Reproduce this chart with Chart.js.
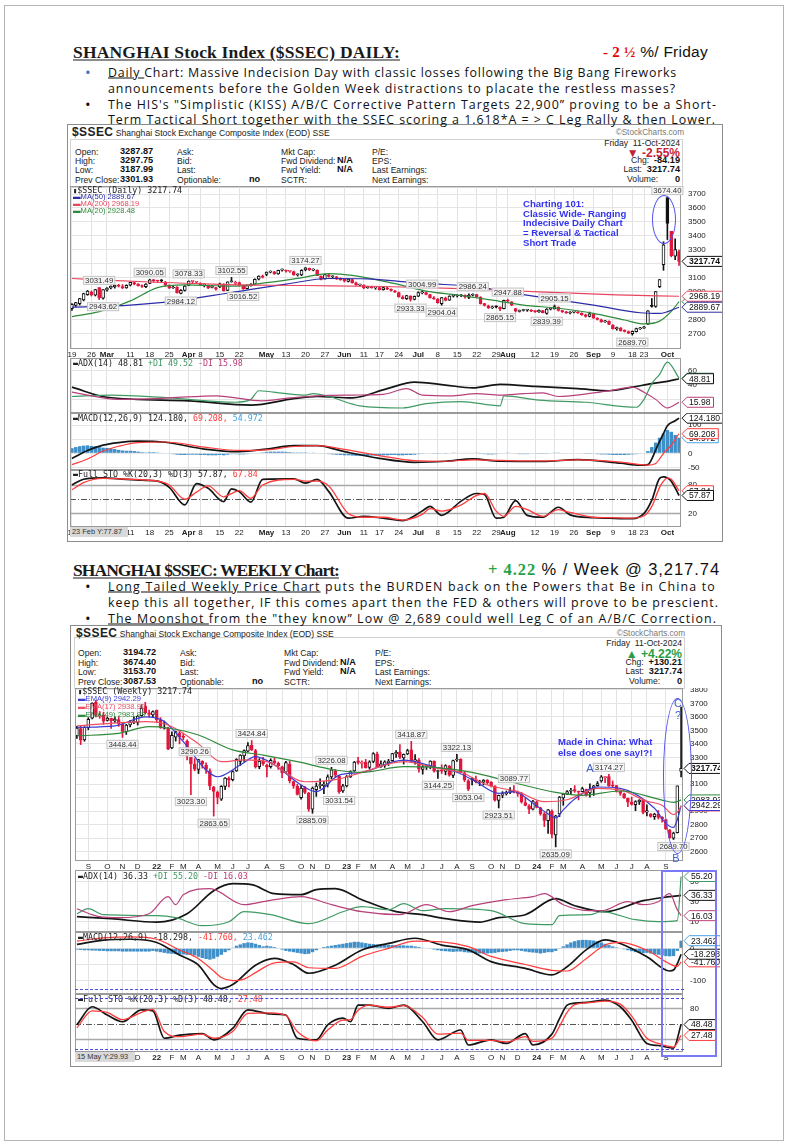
<!DOCTYPE html>
<html>
<head>
<meta charset="utf-8">
<title>SHANGHAI $SSEC Daily / Weekly</title>
<script src="https://cdn.jsdelivr.net/npm/chart.js"></script>
<style>
body { margin:0; width:790px; height:1144px; position:relative; overflow:hidden; background:#fff; font-family:"Liberation Sans", Arial, sans-serif; color:#111; }
.abs { position:absolute; white-space:nowrap; line-height:1; }
#frame { position:absolute; left:4px; top:5px; width:778px; height:1134px; border:1px solid #b4b4b4; }
.box { position:absolute; border:1px solid #8c8c8c; }
.info { position:absolute; border:1px solid #d2d2d2; }
canvas { position:absolute; }
.ttl { font: bold 17.5px "Liberation Serif", serif; color:#1a1a1a; text-decoration: underline; text-underline-offset: 2px; }
.bul { font: 12.4px "Open Sans", sans-serif; color:#111; }
.s { font-size: 8.6px; color:#222; }
.b9 { font-weight:bold; font-size:9.2px; color:#111; }
.mono { font-family: "DejaVu Sans Mono", monospace; font-size: 8.3px; color:#222; }
.ma { font-size: 7.6px; }
.note { font: bold 9.6px "Liberation Sans", sans-serif; color:#3434ee; }
.ring { position:absolute; border:1.3px solid #5555ee; border-radius:50%; }
.dash { position:absolute; height:0; border-top:1.5px dashed #4a4ae8; }
.readout { position:absolute; background:#d9d9d9; font-size:7.4px; color:#333; line-height:10px; padding-left:2px; }
</style>
</head>
<body>
<div id="frame"></div>
<div class="box" style="left:67px;top:124px;width:654px;height:416px"></div>
<div class="info" style="left:70px;top:139px;width:611px;height:47px"></div>
<div class="box" style="left:70px;top:625px;width:650px;height:440px"></div>
<div class="info" style="left:74px;top:637px;width:609px;height:50px"></div>

<canvas id="dPrice" width="656" height="172" style="left:66px;top:186px"></canvas>
<canvas id="dAdx" width="656" height="55" style="left:66px;top:358px"></canvas>
<canvas id="dMacd" width="656" height="57" style="left:66px;top:413px"></canvas>
<canvas id="dSto" width="656" height="67" style="left:66px;top:470px"></canvas>

<canvas id="wPrice" width="645" height="182" style="left:75px;top:688px"></canvas>
<canvas id="wAdx" width="645" height="62" style="left:75px;top:870px"></canvas>
<canvas id="wMacd" width="645" height="62" style="left:75px;top:932px"></canvas>
<canvas id="wSto" width="645" height="68" style="left:75px;top:994px"></canvas>

<script>
// ---------- daily data (Feb 19 - Oct 11 2024) ----------
const dailyDates = ["02-19","02-20","02-21","02-22","02-23","02-26","02-27","02-28","02-29",
"03-01","03-04","03-05","03-06","03-07","03-08","03-11","03-12","03-13","03-14","03-15","03-18","03-19","03-20","03-21","03-22","03-25","03-26","03-27","03-28","03-29",
"04-01","04-02","04-03","04-08","04-09","04-10","04-11","04-12","04-15","04-16","04-17","04-18","04-19","04-22","04-23","04-24","04-25","04-26","04-29","04-30",
"05-06","05-07","05-08","05-09","05-10","05-13","05-14","05-15","05-16","05-17","05-20","05-21","05-22","05-23","05-24","05-27","05-28","05-29","05-30","05-31",
"06-03","06-04","06-05","06-06","06-07","06-11","06-12","06-13","06-14","06-17","06-18","06-19","06-20","06-21","06-24","06-25","06-26","06-27","06-28",
"07-01","07-02","07-03","07-04","07-05","07-08","07-09","07-10","07-11","07-12","07-15","07-16","07-17","07-18","07-19","07-22","07-23","07-24","07-25","07-26","07-29","07-30","07-31",
"08-01","08-02","08-05","08-06","08-07","08-08","08-09","08-12","08-13","08-14","08-15","08-16","08-19","08-20","08-21","08-22","08-23","08-26","08-27","08-28","08-29","08-30",
"09-02","09-03","09-04","09-05","09-06","09-09","09-10","09-11","09-12","09-13","09-18","09-19","09-20","09-23","09-24","09-25","09-26","09-27","09-30",
"10-08","10-09","10-10","10-11"];

const dOpen = [2880,2903,2915,2942,2980,2998,2975,3031,2955,
3012,3027,3035,3045,3038,3028,3048,3066,3055,3043,3036,3060,3083,3078,3080,3070,3048,3027,3033,2988,3010,
3045,3075,3068,3060,3048,3045,3032,3030,3035,3055,3010,3072,3060,3066,3045,3022,3043,3055,3090,3112,
3125,3140,3143,3128,3155,3150,3146,3145,3120,3120,3158,3168,3155,3155,3110,3092,3122,3108,3108,3092,
3090,3075,3088,3065,3048,3048,3028,3036,3028,3030,3015,3028,3018,3005,2995,2962,2950,2970,2945,
2968,2992,2995,2980,2955,2948,2915,2955,2940,2968,2970,2972,2975,2960,2975,2980,2962,2915,2900,2885,2893,2890,2880,
2935,2928,2880,2860,2866,2868,2868,2860,2856,2866,2845,2875,2878,2890,2865,2855,2848,2855,2854,2847,2835,2823,
2838,2810,2800,2785,2788,2760,2735,2740,2722,2715,2700,2715,2735,2740,2770,2900,2895,3036,3195,
3674,3433,3255,3288];
const dHigh = [2915,2925,2953,2990,3010,3006,3018,3031,3016,
3030,3042,3050,3054,3052,3050,3070,3070,3058,3050,3058,3090,3086,3083,3088,3075,3050,3040,3038,3015,3045,
3078,3078,3075,3065,3058,3050,3045,3032,3062,3058,3072,3103,3076,3070,3048,3048,3058,3092,3115,3120,
3142,3150,3146,3155,3165,3155,3150,3148,3130,3158,3174,3170,3165,3158,3115,3125,3125,3115,3110,3100,
3092,3092,3090,3070,3055,3050,3040,3040,3035,3035,3032,3032,3022,3010,2998,2972,2975,2972,2970,
3000,3005,2998,2982,2965,2952,2960,2962,2972,2978,2980,2980,2978,2985,2986,2982,2965,2918,2905,2898,2900,2892,2940,
2948,2930,2882,2870,2875,2875,2872,2864,2870,2868,2880,2885,2905,2892,2868,2860,2858,2860,2858,2850,2840,2855,
2840,2815,2805,2795,2792,2765,2748,2745,2728,2720,2720,2740,2745,2752,2865,2952,3001,3088,3358,
3674,3433,3380,3298];
const dLow = [2866,2895,2905,2935,2975,2970,2970,2944,2948,
3005,3020,3026,3034,3022,3025,3042,3050,3040,3032,3030,3058,3070,3068,3070,3040,3024,3025,2990,2984,3005,
3043,3062,3060,3045,3035,3022,3028,3012,3030,3005,3008,3068,3050,3040,3017,3020,3040,3050,3085,3098,
3115,3135,3125,3125,3148,3140,3138,3118,3112,3115,3150,3152,3150,3115,3085,3090,3105,3100,3088,3082,
3070,3070,3062,3045,3042,3022,3025,3025,3018,3012,3012,3015,3005,2995,2962,2948,2945,2933,2942,
2965,2985,2978,2955,2945,2918,2904,2935,2938,2962,2962,2965,2955,2950,2970,2960,2912,2898,2880,2880,2885,2865,2878,
2928,2900,2855,2855,2862,2860,2858,2852,2852,2848,2839,2870,2876,2862,2852,2845,2842,2848,2845,2832,2818,2820,
2810,2798,2782,2780,2765,2732,2725,2718,2712,2700,2690,2712,2730,2738,2765,2890,2889,3030,3154,
3374,3250,3230,3188];
const dClose = [2910,2923,2951,2988,3005,2977,3015,2958,3015,
3027,3039,3048,3040,3027,3046,3068,3056,3044,3038,3055,3085,3080,3077,3078,3048,3026,3031,2993,3011,3041,
3077,3075,3069,3047,3049,3027,3034,3019,3057,3007,3071,3074,3065,3045,3022,3045,3053,3089,3113,3105,
3141,3148,3128,3154,3155,3148,3146,3120,3122,3154,3171,3158,3159,3116,3089,3124,3110,3111,3092,3087,
3078,3091,3065,3049,3051,3028,3037,3029,3033,3016,3030,3018,3009,2998,2963,2950,2973,2946,2967,
2995,2997,2982,2958,2950,2922,2959,2939,2970,2971,2974,2976,2963,2977,2982,2964,2915,2902,2886,2891,2892,2879,2939,
2932,2905,2861,2867,2870,2870,2862,2858,2868,2851,2877,2879,2894,2867,2857,2849,2854,2856,2849,2837,2823,2842,
2811,2803,2784,2788,2766,2736,2744,2722,2717,2704,2717,2736,2737,2749,2863,2896,3001,3088,3337,
3490,3259,3302,3218];

// overlays and indicators: [bar index, value]
const dMA200 = [[0,3095],[10,3082],[20,3070],[40,3052],[60,3045],[80,3038],[100,3022],[120,3000],[140,2978],[156,2968.19]];
const dMA50 = [[0,2890],[15,2905],[27,2935],[41,2995],[55,3055],[66,3095],[76,3092],[84,3075],[91,3060],[104,3035],[116,2980],[134,2905],[146,2850],[151,2845],[156,2889.67]];
const dMA20 = [[0,2822],[7,2858],[15,2935],[22,3030],[29,3050],[41,3040],[50,3065],[58,3096],[66,3130],[72,3118],[83,3058],[91,3005],[99,2977],[108,2941],[116,2905],[125,2882],[134,2846],[142,2798],[147,2770],[151,2790],[154,2860],[156,2929.48]];
const dAdx = [[0,37],[9,23],[30,18],[46,12],[57,21],[63,24],[72,22],[81,35],[88,44],[96,40],[103,36],[110,41],[119,38],[130,35],[138,32],[144,37],[149,42],[153,45],[156,48.81]];
const dPdi = [[0,24],[10,26],[25,22],[42,16],[46,20],[48,32],[55,28],[60,26],[62,28],[66,24],[74,11],[85,8],[91,14],[100,17],[110,11],[111,25],[120,19],[132,16],[145,9],[147,20],[149,42],[151,55],[153,72],[156,49.52]];
const dMdi = [[0,30],[12,20],[25,22],[37,25],[49,18],[56,22],[63,25],[72,26],[80,27],[86,35],[90,26],[98,25],[104,28],[110,26],[116,28],[121,29],[125,24],[134,29],[139,33],[144,37],[147,30],[150,20],[153,8],[156,15.98]];
const dMacd = [[0,-18],[4,10],[8,29],[12,38],[17,43],[24,39],[34,15],[43,6],[50,15],[57,27],[63,27],[70,6],[79,-18],[88,-32],[96,-28],[103,-20],[110,-28],[121,-29],[130,-22],[141,-35],[146,-42],[148,-40],[149,-20],[150,12],[152,70],[153,97],[155,115],[156,124.18]];
const dSignal = [[0,-40],[4,-20],[8,8],[12,25],[17,38],[24,40],[34,22],[43,10],[50,12],[57,24],[63,27],[70,14],[79,-8],[88,-26],[96,-28],[103,-23],[110,-25],[121,-27],[130,-23],[141,-31],[146,-40],[148,-42],[150,-36],[151,-20],[152,0],[154,29],[156,69.21]];
const dHist = [18,22,25,27,28,26,25,22,20,19,
17,15,12,10,9,9,8,6,4,3,
4,4,3,2,0,-2,-3,-5,-6,-6,
-5,-5,-5,-6,-6,-7,-7,-7,-6,-7,
-5,-3,-3,-4,-4,-3,-2,0,2,3,
5,6,6,6,6,5,4,3,3,3,
3,2,1,0,-2,-2,-3,-4,-5,-6,
-7,-7,-8,-9,-9,-9,-9,-8,-8,-8,
-7,-7,-6,-6,-7,-7,-6,-6,-5,-3,
-1,0,0,-1,-1,-2,-1,0,1,2,
2,2,2,2,1,-1,-3,-4,-4,-3,
-2,0,1,0,-2,-3,-3,-3,-2,-2,
-1,-1,-1,0,1,1,0,0,0,0,
0,0,-1,-1,-2,-3,-4,-4,-5,-6,
-6,-6,-6,-5,-4,-3,-2,0,8,22,
38,55,70,82,76,65,55];
const dK = [[0,80],[3,92],[8,95],[12,93],[18,90],[22,88],[25,75],[29,38],[32,83],[35,73],[39,45],[41,72],[43,66],[46,44],[49,92],[57,93],[60,84],[63,92],[66,66],[71,10],[75,14],[80,10],[85,5],[90,25],[92,35],[95,16],[100,46],[104,62],[106,60],[109,10],[111,12],[114,47],[117,16],[121,12],[125,33],[128,17],[134,11],[138,10],[144,9],[147,20],[149,48],[151,94],[152,97],[153,95],[154,88],[156,57.87]];
const dD = [[0,70],[3,85],[8,94],[12,93],[18,91],[22,88],[25,80],[29,50],[32,65],[35,78],[39,55],[41,62],[43,68],[46,52],[49,80],[57,92],[60,88],[63,88],[66,78],[71,20],[75,12],[80,12],[85,6],[90,18],[92,30],[95,25],[100,38],[104,58],[106,62],[109,25],[111,14],[114,35],[117,28],[121,14],[125,28],[128,22],[134,12],[138,11],[144,10],[147,15],[149,35],[151,75],[152,88],[153,95],[154,92],[156,67.84]];
// swing labels: [bar index, price, 1 = above / -1 = below]
const dSwings = [[7,3031.49,1],[8,2943.62,-1],[20,3090.05,1],[30,3078.33,1],[28,2984.12,-1],[41,3102.55,1],[44,3016.52,-1],[60,3174.27,1],[87,2933.33,-1],[90,3004.99,1],[95,2904.04,-1],[103,2986.24,1],[112,2947.88,1],[110,2865.15,-1],[124,2905.15,1],[122,2839.39,-1],[144,2689.70,-1],[153,3674.40,1]];
const dailyTickDates = ["02-19","02-26","03-01","03-11","03-18","03-25","04-01","04-08","04-15","04-22","05-06","05-13","05-20","05-27","06-03","06-11","06-17","06-24","07-01","07-08","07-15","07-22","07-29","08-01","08-12","08-19","08-26","09-02","09-09","09-18","09-23","10-08"];
const dailyTickText = ["19","26","Mar","11","18","25","Apr","8","15","22","May","13","20","27","Jun","11","17","24","Jul","8","15","22","29","Aug","12","19","26","Sep","9","18","23","Oct"];
const dailyQuote = ["3287.87","3297.75","3187.99","3301.93"];

// ---------- weekly data (Aug 2021 - Oct 11 2024) ----------
const weeklyDates = ["21-08-13","21-08-20","21-08-27","21-09-03","21-09-10","21-09-17","21-09-24","21-09-30","21-10-08","21-10-15","21-10-22","21-10-29","21-11-05","21-11-12","21-11-19","21-11-26","21-12-03","21-12-10","21-12-17","21-12-24","21-12-31",
"22-01-07","22-01-14","22-01-21","22-01-28","22-02-11","22-02-18","22-02-25","22-03-04","22-03-11","22-03-18","22-03-25","22-04-01","22-04-08","22-04-15","22-04-22","22-04-29","22-05-06","22-05-13","22-05-20","22-05-27","22-06-03","22-06-10","22-06-17","22-06-24","22-07-01","22-07-08","22-07-15","22-07-22","22-07-29","22-08-05","22-08-12","22-08-19","22-08-26","22-09-02","22-09-09","22-09-16","22-09-23","22-09-30","22-10-14","22-10-21","22-10-28","22-11-04","22-11-11","22-11-18","22-11-25","22-12-02","22-12-09","22-12-16","22-12-23","22-12-30",
"23-01-06","23-01-13","23-01-20","23-02-03","23-02-10","23-02-17","23-02-24","23-03-03","23-03-10","23-03-17","23-03-24","23-03-31","23-04-07","23-04-14","23-04-21","23-04-28","23-05-05","23-05-12","23-05-19","23-05-26","23-06-02","23-06-09","23-06-16","23-06-23","23-06-30","23-07-07","23-07-14","23-07-21","23-07-28","23-08-04","23-08-11","23-08-18","23-08-25","23-09-01","23-09-08","23-09-15","23-09-22","23-09-28","23-10-13","23-10-20","23-10-27","23-11-03","23-11-10","23-11-17","23-11-24","23-12-01","23-12-08","23-12-15","23-12-22","23-12-29",
"24-01-05","24-01-12","24-01-19","24-01-26","24-02-02","24-02-09","24-02-23","24-03-01","24-03-08","24-03-15","24-03-22","24-03-29","24-04-03","24-04-12","24-04-19","24-04-26","24-04-30","24-05-10","24-05-17","24-05-24","24-05-31","24-06-07","24-06-14","24-06-21","24-06-28","24-07-05","24-07-12","24-07-19","24-07-26","24-08-02","24-08-09","24-08-16","24-08-23","24-08-30","24-09-06","24-09-13","24-09-20","24-09-27","24-10-11"];

const wOpen = [3460,3514,3430,3520,3590,3710,3605,3612,3575,3590,3570,3580,3545,3490,3540,3560,3560,3610,3680,3630,3615,
3650,3575,3515,3520,3370,3450,3480,3450,3420,3300,3250,3210,3270,3240,3200,3080,3040,2990,3085,3145,3135,3200,3270,3310,3345,3390,3350,3230,3270,3240,3230,3275,3255,3230,3190,3250,3120,3085,3000,3075,3035,2915,3060,3090,3090,3100,3155,3200,3160,3050,
3088,3155,3200,3275,3255,3265,3225,3270,3325,3230,3240,3260,3275,3325,3340,3295,3325,3355,3270,3280,3210,3230,3230,3270,3195,3200,3195,3235,3165,3280,3285,3185,3125,3140,3135,3115,3115,3130,3115,3085,2980,3020,3030,3040,3055,3040,3030,2965,2940,2915,
2970,2925,2880,2830,2900,2725,2880,2998,3027,3048,3060,3048,3045,3060,3035,3066,3090,3125,3150,3158,3092,3090,3048,3030,2995,2968,2948,2970,2980,2893,2880,2860,2878,2855,2838,2760,2700,2740,3195];
const wHigh = [3530,3530,3528,3595,3705,3723,3640,3635,3600,3592,3600,3600,3555,3545,3575,3600,3610,3690,3708,3650,3645,
3651,3595,3570,3525,3490,3495,3500,3480,3430,3300,3290,3285,3275,3260,3215,3085,3050,3090,3150,3155,3200,3290,3320,3355,3410,3425,3360,3290,3300,3250,3290,3300,3265,3235,3270,3270,3125,3100,3095,3085,3040,3080,3110,3140,3120,3170,3226,3210,3165,3100,
3165,3200,3270,3300,3275,3285,3275,3335,3340,3275,3275,3285,3330,3350,3395,3325,3360,3419,3320,3290,3240,3245,3275,3275,3205,3245,3245,3240,3280,3322,3290,3195,3135,3150,3160,3130,3135,3135,3120,3090,3020,3045,3050,3075,3090,3050,3040,2995,2950,2980,
2976,2930,2890,2915,2910,2870,3010,3031,3054,3070,3090,3050,3078,3065,3103,3092,3120,3165,3158,3174,3125,3092,3050,3035,2998,3005,2978,2986,2982,2948,2882,2885,2905,2860,2840,2765,2745,3088,3674];
const wLow = [3440,3395,3420,3505,3585,3600,3590,3545,3570,3515,3560,3530,3448,3470,3525,3550,3540,3605,3620,3600,3600,
3560,3515,3510,3357,3365,3420,3400,3430,3280,3023,3200,3180,3220,3180,3060,2864,2955,2980,3060,3080,3125,3195,3240,3270,3340,3350,3220,3215,3240,3155,3220,3250,3210,3150,3180,3110,3070,3020,2990,3030,2900,2885,3010,3070,3030,3080,3140,3150,3032,3040,
3080,3150,3195,3250,3220,3220,3215,3260,3225,3225,3225,3240,3270,3300,3290,3250,3320,3260,3250,3190,3175,3210,3215,3190,3144,3180,3170,3160,3150,3270,3185,3120,3053,3095,3110,3090,3095,3100,3080,2975,2924,3000,3020,3030,3035,3010,2960,2940,2882,2910,
2925,2870,2786,2735,2702,2635,2860,2944,3022,3030,3040,2984,3043,3012,3005,3017,3085,3115,3112,3085,3082,3042,3018,2995,2933,2945,2904,2950,2880,2865,2855,2839,2842,2818,2765,2700,2690,2738,3154];
const wClose = [3517,3427,3522,3582,3703,3614,3613,3568,3592,3572,3583,3547,3492,3539,3560,3564,3607,3666,3632,3618,3640,
3580,3521,3523,3361,3463,3491,3451,3448,3310,3251,3212,3283,3252,3211,3087,3047,3002,3084,3147,3130,3195,3285,3317,3350,3388,3356,3228,3270,3253,3227,3277,3258,3236,3186,3262,3126,3088,3024,3072,3039,2916,3071,3087,3097,3102,3156,3207,3168,3046,3089,
3158,3195,3265,3263,3261,3224,3267,3328,3230,3251,3266,3273,3328,3338,3301,3323,3350,3272,3284,3213,3230,3231,3273,3198,3202,3197,3238,3168,3276,3288,3189,3132,3064,3133,3117,3118,3132,3110,3088,2983,3018,3031,3039,3054,3041,3032,2970,2943,2915,2975,
2929,2882,2832,2910,2730,2866,3005,3027,3046,3055,3048,3041,3069,3019,3065,3089,3105,3155,3154,3089,3087,3051,3033,2998,2967,2950,2971,2982,2891,2905,2862,2879,2854,2842,2766,2704,2737,3088,3218];

const wEma9 = [[0,3522],[10,3533],[18,3600],[23,3567],[28,3416],[34,3206],[37,3156],[43,3243],[47,3305],[52,3243],[59,3095],[63,3045],[69,3168],[75,3189],[86,3280],[94,3230],[100,3189],[105,3119],[111,3033],[115,3045],[120,2960],[124,2880],[126,2850],[128,2910],[131,2990],[137,3080],[143,3070],[152,2922],[155,2810],[157,2780],[158,2837],[159,2942.29]];
const wEma17 = [[0,3533],[18,3565],[24,3540],[32,3400],[38,3268],[44,3281],[50,3268],[60,3119],[68,3134],[75,3189],[86,3268],[95,3218],[101,3189],[108,3095],[116,3045],[123,2971],[129,2985],[137,3070],[143,3058],[150,2975],[154,2945],[157,2875],[158,2893],[159,2938.9]];
const wEma49 = [[0,3460],[11,3478],[19,3528],[24,3518],[32,3466],[41,3355],[49,3317],[58,3268],[68,3206],[75,3189],[86,3231],[95,3223],[104,3189],[114,3119],[126,3040],[133,3018],[143,3050],[154,2983],[157,2965],[159,2983.93]];
const wAdx = [[0,15],[9,13],[21,9.5],[29,18],[36,41],[41,48],[46,47],[52,38],[59,37],[63,42],[68,43],[75,32],[84,20],[91,17],[97,13],[106,9.5],[111,14],[118,17],[126,33],[131,26],[139,20],[149,31],[156,35],[159,36.33]];
const wPdi = [[0,18],[3,23],[7,17],[21,16],[26,14],[33,6],[40,10],[44,20],[51,17],[61,8],[70,20],[75,25],[82,22],[86,28],[91,21],[97,23],[109,21],[118,8],[125,7],[127,16],[135,17],[138,20],[147,12],[153,10],[158,11],[159,55.2]];
const wMdi = [[0,23],[6,15],[11,14],[19,18],[24,35],[26,27],[28,37],[35,43],[44,27],[49,30],[52,32],[59,35],[67,27],[75,20],[85,17],[92,27],[98,20],[104,26],[113,32],[120,35],[123,38],[128,27],[135,21],[138,21],[145,30],[149,27],[153,30],[156,38],[158,22],[159,16.03]];
const wMacd = [[0,12],[7,25],[14,28],[21,18],[27,-21],[32,-52],[36,-112],[38,-124],[41,-112],[47,-52],[52,-31],[57,-50],[61,-77],[68,-52],[75,-5],[82,15],[89,31],[96,10],[103,-5],[109,-41],[118,-62],[125,-82],[129,-57],[134,-5],[139,26],[143,15],[150,-26],[156,-70],[157,-67],[158,-48],[159,-18.3]];
const wSignal = [[0,22],[7,32],[14,35],[21,28],[27,-5],[32,-32],[36,-70],[38,-90],[41,-100],[44,-95],[47,-75],[52,-45],[57,-42],[61,-60],[68,-62],[75,-25],[82,0],[89,22],[96,20],[103,5],[109,-25],[118,-50],[125,-68],[129,-70],[134,-32],[139,10],[143,18],[150,-6],[156,-48],[158,-56],[159,-41.76]];
const wHist = [-4,-5,-6,-6,-7,-7,-8,-8,-9,-9,
-9,-9,-10,-10,-10,-10,-10,-10,-10,-10,
-8,-10,-12,-14,-16,-17,-18,-19,-19,-20,
-20,-22,-26,-30,-33,-35,-32,-26,-20,-12,
-6,2,8,12,16,18,17,14,10,6,
8,6,4,0,-4,-8,-10,-12,-14,-16,
-18,-17,-12,-6,0,4,6,8,10,12,
14,16,18,20,20,18,16,14,13,12,
12,12,11,10,10,9,9,8,8,6,
4,2,0,-2,-4,-6,-8,-9,-10,-11,
-10,-10,-12,-13,-14,-15,-16,-16,-16,-15,
-14,-12,-11,-10,-8,-6,-6,-8,-10,-12,
-13,-14,-16,-14,-12,-12,-8,-2,6,12,
18,22,25,26,26,25,24,22,18,14,
10,6,3,0,-3,-6,-9,-12,-14,-15,
-14,-16,-18,-20,-22,-24,-25,-24,-8,23.5];
const wK = [[0,48],[4,83],[8,67],[12,54],[17,77],[20,75],[23,22],[27,28],[33,31],[36,19],[41,41],[45,77],[51,69],[55,67],[58,22],[63,19],[66,48],[70,61],[72,54],[74,86],[77,86],[82,80],[86,86],[91,54],[95,19],[101,38],[103,9],[109,19],[113,12],[118,31],[120,9],[125,30],[127,60],[129,86],[131,90],[135,92],[139,96],[143,83],[146,57],[150,12],[153,8],[157,3],[159,48.48]];
const wD = [[0,42],[4,75],[8,72],[12,58],[17,72],[20,78],[23,35],[27,25],[33,30],[36,22],[41,35],[45,70],[51,71],[55,66],[58,35],[63,17],[66,38],[70,57],[72,58],[74,76],[77,86],[82,82],[86,85],[91,62],[95,30],[101,32],[103,18],[109,18],[113,15],[118,25],[120,16],[125,22],[127,45],[129,72],[131,87],[135,91],[139,94],[143,88],[146,65],[150,22],[153,12],[157,5],[159,27.48]];
const wSwings = [[12,3448.44,-1],[31,3290.26,1],[30,3023.30,-1],[36,2863.65,-1],[46,3424.84,1],[67,3226.08,1],[62,2885.09,-1],[69,3031.54,-1],[88,3418.87,1],[100,3322.13,1],[95,3144.25,-1],[103,3053.04,-1],[115,3089.77,1],[111,2923.51,-1],[126,2635.09,-1],[140,3174.27,1],[157,2689.70,-1]];
const weeklyTickDates = ["21-09-03","21-10-08","21-11-05","21-12-03","22-01-07","22-02-11","22-03-04","22-04-01","22-05-06","22-06-03","22-07-01","22-08-05","22-09-02","22-10-14","22-11-04","22-12-02","23-01-06","23-02-03","23-03-03","23-04-07","23-05-05","23-06-02","23-07-07","23-08-04","23-09-01","23-10-13","23-11-03","23-12-01","24-01-05","24-02-02","24-03-01","24-04-03","24-05-10","24-06-07","24-07-05","24-08-02","24-09-06"];
const weeklyTickText = ["S","O","N","D","22","F","M","A","M","J","J","A","S","O","N","D","23","F","M","A","M","J","J","A","S","O","N","D","24","F","M","A","M","J","J","A","S"];
const weeklyQuote = ["3194.72","3674.40","3153.70","3087.53"];

// ---------- colours ----------
const RED = '#e0173d', MA50C = '#2c2ca8', MA200C = '#e8465f', MA20C = '#2e8b3c';
const EMA9C = '#3b3bd6', EMA17C = '#ef4f63', EMA49C = '#2f8a3a';
const PDIC = '#3f9a63', MDIC = '#b8407a', SIGC = '#ff3b3b', HISTC = '#3f8fc8';

Chart.defaults.font.family = '"Liberation Sans", Arial, sans-serif';

// tags, swing labels and reference lines per canvas
const extras = {};
const decorPlugin = {
  id: 'decor',
  beforeDatasetsDraw(chart) {
    const ex = extras[chart.canvas.id] || {};
    const { ctx, chartArea: a } = chart;
    const y = chart.scales.y;
    (ex.refs || []).forEach(r => {
      const py = Math.round(y.getPixelForValue(r.v)) + 0.5;
      ctx.save();
      ctx.strokeStyle = r.c; ctx.lineWidth = r.w; ctx.setLineDash(r.d || []);
      ctx.beginPath(); ctx.moveTo(a.left, py); ctx.lineTo(a.right, py); ctx.stroke();
      ctx.restore();
    });
  },
  afterDraw(chart) {
    const ex = extras[chart.canvas.id] || {};
    const { ctx, chartArea: a } = chart;
    const x = chart.scales.x, y = chart.scales.y;
    ctx.save();
    ctx.strokeStyle = '#9a9a9a'; ctx.lineWidth = 1; ctx.setLineDash([]);
    ctx.strokeRect(Math.round(a.left) + 0.5, Math.round(a.top) + 0.5, Math.round(a.width) - 1, Math.round(a.height) - 1);

    ctx.font = '7.8px "Liberation Sans"'; ctx.textBaseline = 'middle'; ctx.textAlign = 'center';
    (ex.swings || []).forEach(s => {
      const px = x.getPixelForValue(s[0]);
      const py = y.getPixelForValue(s[1]) + (s[2] > 0 ? -7 : 7);
      const t = s[1].toFixed(2);
      const w = ctx.measureText(t).width + 4;
      ctx.fillStyle = 'rgba(246,246,246,0.92)'; ctx.fillRect(px - w / 2, py - 4.5, w, 9);
      ctx.strokeStyle = '#c4c4c4'; ctx.strokeRect(px - w / 2 + 0.5, py - 4, w - 1, 8);
      ctx.fillStyle = '#333'; ctx.fillText(t, px, py + 0.5);
    });

    ctx.textAlign = 'left';
    (ex.tags || []).forEach(t => {
      const py = y.getPixelForValue(t.v), x0 = a.right + 1;
      ctx.font = (t.b ? 'bold ' : '') + '8.6px "Liberation Sans"';
      const w = ctx.measureText(t.t).width + 5;
      ctx.beginPath();
      ctx.moveTo(x0, py); ctx.lineTo(x0 + 5, py - 5); ctx.lineTo(x0 + 5 + w, py - 5);
      ctx.lineTo(x0 + 5 + w, py + 5); ctx.lineTo(x0 + 5, py + 5); ctx.closePath();
      ctx.fillStyle = '#fff'; ctx.fill();
      ctx.strokeStyle = t.c; ctx.lineWidth = 1; ctx.stroke();
      ctx.fillStyle = '#111'; ctx.fillText(t.t, x0 + 7, py + 0.5);
    });
    ctx.restore();
  }
};
Chart.register(decorPlugin);

function tickMap(ds, txt) { const m = {}; ds.forEach((d, i) => { m[d] = txt[i]; }); return m; }

function candles(O, H, L, C, w) {
  const edge = C.map((c, i) => c >= (i ? C[i - 1] : O[i]) ? '#111' : RED);
  const face = C.map((c, i) => c >= O[i] ? '#fff' : edge[i]);
  return [
    { type: 'bar', data: L.map((l, i) => [l, H[i]]), backgroundColor: edge, barThickness: 1, grouped: false, order: 3 },
    { type: 'bar', data: O.map((o, i) => [o, C[i]]), backgroundColor: face, borderColor: edge, borderWidth: 1,
      borderSkipped: false, barThickness: w, minBarLength: 1, grouped: false, order: 2 }
  ];
}
function line(dates, pts, color, w) {
  return { type: 'line', data: pts.map(p => ({ x: dates[p[0]], y: p[1] })), borderColor: color, borderWidth: w || 1.2,
           pointRadius: 0, cubicInterpolationMode: 'monotone', fill: false, order: 1 };
}
function hist(data) {
  return { type: 'bar', data: data, backgroundColor: HISTC, barPercentage: 0.9, categoryPercentage: 1, order: 4 };
}

function panel(id, dates, ticks, o) {
  extras[id] = { tags: o.tags, swings: o.swings, refs: o.refs };
  return new Chart(document.getElementById(id), {
    type: 'bar',
    data: { labels: dates, datasets: o.sets },
    options: {
      responsive: false, animation: false, events: [],
      layout: { padding: { left: o.padL || 0 } },
      plugins: { legend: { display: false }, tooltip: { enabled: false } },
      scales: {
        x: {
          offset: true,
          grid: { offset: false, drawTicks: false, color: c => (c.tick && c.tick.label ? '#e2e2e2' : 'rgba(0,0,0,0)') },
          border: { display: false },
          ticks: {
            autoSkip: false, maxRotation: 0, minRotation: 0, padding: 1,
            color: o.band ? '#222' : 'rgba(0,0,0,0)',
            font: c => ({ family: '"Liberation Sans"', size: 8, weight: (c.tick && o.bold.test(c.tick.label)) ? 'bold' : 'normal' }),
            callback: v => ticks[dates[v]] ?? null
          },
          afterFit: s => { s.height = o.band || 0; s.paddingLeft = 0; s.paddingRight = 0; }
        },
        y: {
          position: 'right', min: o.min, max: o.max,
          afterBuildTicks: s => { s.ticks = o.yt.map(v => ({ value: v })); },
          afterFit: s => { s.width = o.axisW; s.paddingTop = 0; s.paddingBottom = 0; },
          grid: { drawTicks: false, color: o.ygrid || '#e4e4e4' },
          border: { display: false },
          ticks: { padding: 7, color: '#222', font: { size: 8 }, callback: v => String(v) }
        }
      }
    }
  });
}

// ---------- daily panels ----------
const dTicks = tickMap(dailyTickDates, dailyTickText);
const dBold = /^[A-Z]/;
const stoRefs = [{ v: 80, c: '#a8a8a8', w: 1.6 }, { v: 20, c: '#a8a8a8', w: 1.6 }, { v: 50, c: '#555', w: 1, d: [6, 2, 1, 2] }];

panel('dPrice', dailyDates, dTicks, {
  band: 9, axisW: 41, padL: 4, min: 2590.5, max: 3757.3, yt: [2700, 2800, 2900, 3000, 3100, 3200, 3300, 3400, 3500, 3600, 3700], bold: dBold,
  sets: [...candles(dOpen, dHigh, dLow, dClose, 3), line(dailyDates, dMA200, MA200C), line(dailyDates, dMA50, MA50C), line(dailyDates, dMA20, MA20C)],
  swings: dSwings,
  tags: [{ v: 2929.48, t: '2929.48', c: MA20C }, { v: 2968.19, t: '2968.19', c: MA200C }, { v: 2889.67, t: '2889.67', c: MA50C }, { v: 3217.74, t: '3217.74', c: '#111', b: true }]
});
panel('dAdx', dailyDates, dTicks, {
  axisW: 41, padL: 4, min: 1, max: 77.7, yt: [20, 40, 60], bold: dBold,
  sets: [line(dailyDates, dMdi, MDIC), line(dailyDates, dPdi, PDIC), line(dailyDates, dAdx, '#151515', 1.7)],
  tags: [{ v: 49.52, t: '49.52', c: PDIC }, { v: 48.81, t: '48.81', c: '#111' }, { v: 15.98, t: '15.98', c: MDIC }]
});
panel('dMacd', dailyDates, dTicks, {
  axisW: 41, padL: 4, min: -59, max: 142.4, yt: [-50, 0, 50, 100], bold: dBold,
  sets: [hist(dHist), line(dailyDates, dSignal, SIGC, 1.2), line(dailyDates, dMacd, '#151515', 1.7)],
  tags: [{ v: 54.972, t: '54.972', c: '#4aa3df' }, { v: 69.208, t: '69.208', c: SIGC }, { v: 124.18, t: '124.180', c: '#111' }]
});
panel('dSto', dailyDates, dTicks, {
  band: 10, axisW: 41, padL: 4, min: -8.6, max: 111.6, yt: [20, 50, 80], bold: dBold, ygrid: 'rgba(0,0,0,0)', refs: stoRefs,
  sets: [line(dailyDates, dD, SIGC, 1.3), line(dailyDates, dK, '#151515', 1.7)],
  tags: [{ v: 67.84, t: '67.84', c: SIGC }, { v: 57.87, t: '57.87', c: '#111' }]
});

// ---------- weekly panels ----------
const wTicks = tickMap(weeklyTickDates, weeklyTickText);
const wBold = /^\d\d$/;
panel('wPrice', weeklyDates, wTicks, {
  band: 9, axisW: 37, min: 2530.5, max: 3814.8, yt: [2600, 2700, 2800, 2900, 3000, 3100, 3200, 3300, 3400, 3500, 3600, 3700, 3800], bold: wBold,
  sets: [...candles(wOpen, wHigh, wLow, wClose, 3), line(weeklyDates, wEma49, EMA49C), line(weeklyDates, wEma17, EMA17C), line(weeklyDates, wEma9, EMA9C)],
  swings: wSwings,
  tags: [{ v: 2938.9, t: '2938.90', c: EMA17C }, { v: 2983.93, t: '2983.93', c: EMA49C }, { v: 2942.29, t: '2942.29', c: EMA9C }, { v: 3217.74, t: '3217.74', c: '#111', b: true }]
});
panel('wAdx', weeklyDates, wTicks, {
  axisW: 37, min: -0.3, max: 61.7, yt: [10, 20, 30, 40, 50], bold: wBold,
  sets: [line(weeklyDates, wMdi, MDIC), line(weeklyDates, wPdi, PDIC), line(weeklyDates, wAdx, '#151515', 1.7)],
  tags: [{ v: 36.33, t: '36.33', c: '#111' }, { v: 16.03, t: '16.03', c: MDIC }, { v: 55.2, t: '55.20', c: PDIC }]
});
panel('wMacd', weeklyDates, wTicks, {
  axisW: 37, min: -141, max: 50.3, yt: [-100, -50, 0], bold: wBold,
  sets: [hist(wHist), line(weeklyDates, wSignal, SIGC, 1.2), line(weeklyDates, wMacd, '#151515', 1.7)],
  tags: [{ v: -41.76, t: '-41.760', c: SIGC }, { v: -18.298, t: '-18.298', c: '#111' }, { v: 23.462, t: '23.462', c: '#4aa3df' }]
});
panel('wSto', weeklyDates, wTicks, {
  band: 10, axisW: 37, min: -4.6, max: 107.7, yt: [20, 50, 80], bold: wBold, ygrid: 'rgba(0,0,0,0)', refs: stoRefs,
  sets: [line(weeklyDates, wD, SIGC, 1.3), line(weeklyDates, wK, '#151515', 1.7)],
  tags: [{ v: 27.48, t: '27.48', c: SIGC }, { v: 48.48, t: '48.48', c: '#111' }]
});

// ---------- text ----------
function put(x, y, html, cls, align, css) {
  const d = document.createElement('div');
  d.className = 'abs ' + (cls || '');
  d.innerHTML = html;
  d.style.left = x + 'px';
  d.style.top = y + 'px';
  if (css) d.style.cssText += css;
  const tx = align === 'r' ? '-100%' : align === 'c' ? '-50%' : '0';
  d.style.transform = 'translate(' + tx + ',-50%)';
  document.body.appendChild(d);
  return d;
}
function fit(d, w) {
  const n = d.textContent.length;
  const cur = d.getBoundingClientRect().width;
  d.style.letterSpacing = ((w - cur) / n).toFixed(3) + 'px';
}

fit(put(73, 52, 'SHANGHAI Stock Index ($SSEC) DAILY:', 'ttl'), 327);
fit(put(603, 52, '<span style="color:#e60000;font:bold 15px \'Liberation Serif\'">- 2 ½</span> <span style="font:15.5px \'Liberation Sans\'">%/ Friday</span>'), 105);
put(85, 72, '•', '', '', 'font:15px "Open Sans";color:#2f72c8');
fit(put(108, 72, '<u>Daily </u>Chart: Massive Indecision Day with classic losses following the Big Bang Fireworks', 'bul'), 569);
fit(put(108, 88, 'announcements before the Golden Week distractions to placate the restless masses?', 'bul'), 568);
put(85, 104, '•', '', '', 'font:15px "Open Sans"');
fit(put(108, 104, 'The HIS\'s "Simplistic (KISS) A/B/C Corrective Pattern Targets 22,900” proving to be a Short-', 'bul'), 609);
fit(put(108, 119, 'Term Tactical Short together with the SSEC scoring a 1.618*A = &gt; C Leg Rally &amp; then Lower.', 'bul'), 608);

fit(put(73, 570, 'SHANGHAI $SSEC: WEEKLY Chart:', 'ttl'), 266);
fit(put(488, 570, '<span style="color:#1fa34a;font:bold 16.5px \'Liberation Serif\'">+ 4.22</span> <span style="font:16.5px \'Liberation Sans\'">% / Week @ 3,217.74</span>'), 232);
put(85, 586, '•', '', '', 'font:15px "Open Sans"');
fit(put(108, 586, '<u>Long Tailed Weekly Price Chart</u> puts the BURDEN back on the Powers that Be in China to', 'bul'), 608);
fit(put(108, 602, 'keep this all together, IF this comes apart then the FED &amp; others will prove to be prescient.', 'bul'), 611);
put(85, 618, '•', '', '', 'font:15px "Open Sans"');
fit(put(108, 618, '<u>The Moonshot </u>from the "they know” Low @ 2,689 could well Leg C of an A/B/C Correction.', 'bul'), 609);

function header(x, y, right) {
  put(x, y, '<b style="font-size:12px;letter-spacing:0.4px">$SSEC</b> <span style="font-size:8.6px">Shanghai Stock Exchange Composite Index (EOD) SSE</span>', 's');
  put(right, y + 1, '©StockCharts.com', 's', 'r', 'color:#777;font-size:8.2px');
}
function infoBox(x0, y0, dy, right, vals, pct, pctColor, chg) {
  const L1 = ['Open:', 'High:', 'Low:', 'Prev Close:'];
  const L2 = ['Ask:', 'Bid:', 'Last:', 'Optionable:'];
  const L3 = ['Mkt Cap:', 'Fwd Dividend:', 'Fwd Yield:', 'SCTR:'];
  const L4 = ['P/E:', 'EPS:', 'Last Earnings:', 'Next Earnings:'];
  put(right, y0 - dy, 'Friday&nbsp; 11-Oct-2024', 's', 'r');
  for (let i = 0; i < 4; i++) {
    const y = y0 + i * dy;
    put(x0 + 5, y, L1[i], 's');
    put(x0 + 50, y, vals[i], 'b9');
    put(x0 + 107, y, L2[i], 's');
    put(x0 + 211, y, L3[i], 's');
    put(x0 + 302, y, L4[i], 's');
  }
  put(x0 + 179, y0 + 3 * dy, 'no', 'b9');
  put(x0 + 267, y0 + dy, 'N/A', 'b9');
  put(x0 + 267, y0 + 2 * dy, 'N/A', 'b9');
  put(right, y0 + 0.5, pct, '', 'r', 'font:bold 12px "Liberation Sans";color:' + pctColor);
  put(right, y0 + dy, 'Chg:&nbsp; <b class="b9">' + chg + '</b>', 's', 'r');
  put(right, y0 + 2 * dy, 'Last:&nbsp; <b class="b9">3217.74</b>', 's', 'r');
  put(right, y0 + 3 * dy, 'Volume:&nbsp;&nbsp;&nbsp;&nbsp;&nbsp;&nbsp; <b class="b9">0</b>', 's', 'r');
}

header(72, 132, 684);
infoBox(70, 152, 9.2, 680, dailyQuote, '▼ -2.55%', '#c41e3a', '-84.19');
header(76, 632.5, 685);
infoBox(73, 653, 9.6, 682, weeklyQuote, '▲ +4.22%', '#2a9d45', '+130.21');

// legends
put(73, 190, '<span style="font-size:7px">▮</span>$SSEC (Daily) 3217.74', 'mono');
put(73, 196.8, '▬MA(50) 2889.67', 'ma', '', 'color:' + MA50C);
put(73, 203.8, '▬MA(200) 2968.19', 'ma', '', 'color:' + MA200C);
put(73, 210.8, '▬MA(20) 2928.48', 'ma', '', 'color:' + MA20C);
put(73, 363, '▬ADX(14) 48.81 <span style="color:' + PDIC + '">+DI 49.52</span> <span style="color:' + MDIC + '">-DI 15.98</span>', 'mono');
put(73, 418, '▬MACD(12,26,9) 124.180, <span style="color:' + SIGC + '">69.208,</span> <span style="color:#4aa3df">54.972</span>', 'mono');
put(73, 474, '▬Full STO %K(20,3) %D(3) 57.87, <span style="color:' + SIGC + '">67.84</span>', 'mono');
put(78, 691, '<span style="font-size:7px">▮</span>$SSEC (Weekly) 3217.74', 'mono');
put(78, 699, '▬EMA(9) 2942.29', 'ma', '', 'color:' + EMA9C);
put(78, 706.8, '▬EMA(17) 2938.90', 'ma', '', 'color:' + EMA17C);
put(78, 714.5, '▬EMA(49) 2983.93', 'ma', '', 'color:' + EMA49C);
put(78, 876, '▬ADX(14) 36.33 <span style="color:' + PDIC + '">+DI 55.20</span> <span style="color:' + MDIC + '">-DI 16.03</span>', 'mono');
put(78, 937, '▬MACD(12,26,9) -18.298, <span style="color:' + SIGC + '">-41.760,</span> <span style="color:#4aa3df">23.462</span>', 'mono');
put(78, 998.5, '▬Full STO %K(20,3) %D(3) 48.48, <span style="color:' + SIGC + '">27.48</span>', 'mono');

// cursor readouts on the bottom axes
const r1 = put(70, 532, '23 Feb Y:77.87', 'readout'); r1.style.width = '56px';
const r2 = put(75, 1057, '15 May Y:29.93', 'readout'); r2.style.width = '58px';

// hand-drawn annotations
['Charting 101:', 'Classic Wide- Ranging', 'Indecisive Daily Chart', '= Reversal &amp; Tactical', 'Short Trade']
  .forEach((t, i) => put(523, 203 + i * 9.7, t, 'note'));
put(558, 741, 'Made in China: What', 'note');
put(558, 752, 'else does one say!?!', 'note');
put(678, 703, 'C', '', 'c', 'font:11px "Liberation Sans";color:#3c5fd0');
put(678, 715, '?', '', 'c', 'font:11px "Liberation Sans";color:#3c5fd0');
put(676, 858, 'B', '', 'c', 'font:11px "Liberation Sans";color:#3c5fd0');
put(590, 768, 'A', '', 'c', 'font:11px "Liberation Sans";color:#3c5fd0');

function shape(cls, l, t, w, h, css) {
  const d = document.createElement('div');
  d.className = cls;
  d.style.cssText = 'left:' + l + 'px;top:' + t + 'px;width:' + w + 'px;' + (h !== null ? 'height:' + h + 'px;' : '') + (css || '');
  document.body.appendChild(d);
}
shape('ring', 652, 195, 22, 47);
shape('ring', 663, 698, 27, 154);
shape('ring', 661, 870, 52, 183, 'border-radius:0;border:2px solid #7a7af7');
shape('dash', 75, 989, 609, null);
shape('dash', 75, 998, 609, null);
shape('dash', 75, 1049, 609, null);
</script>
</body>
</html>
